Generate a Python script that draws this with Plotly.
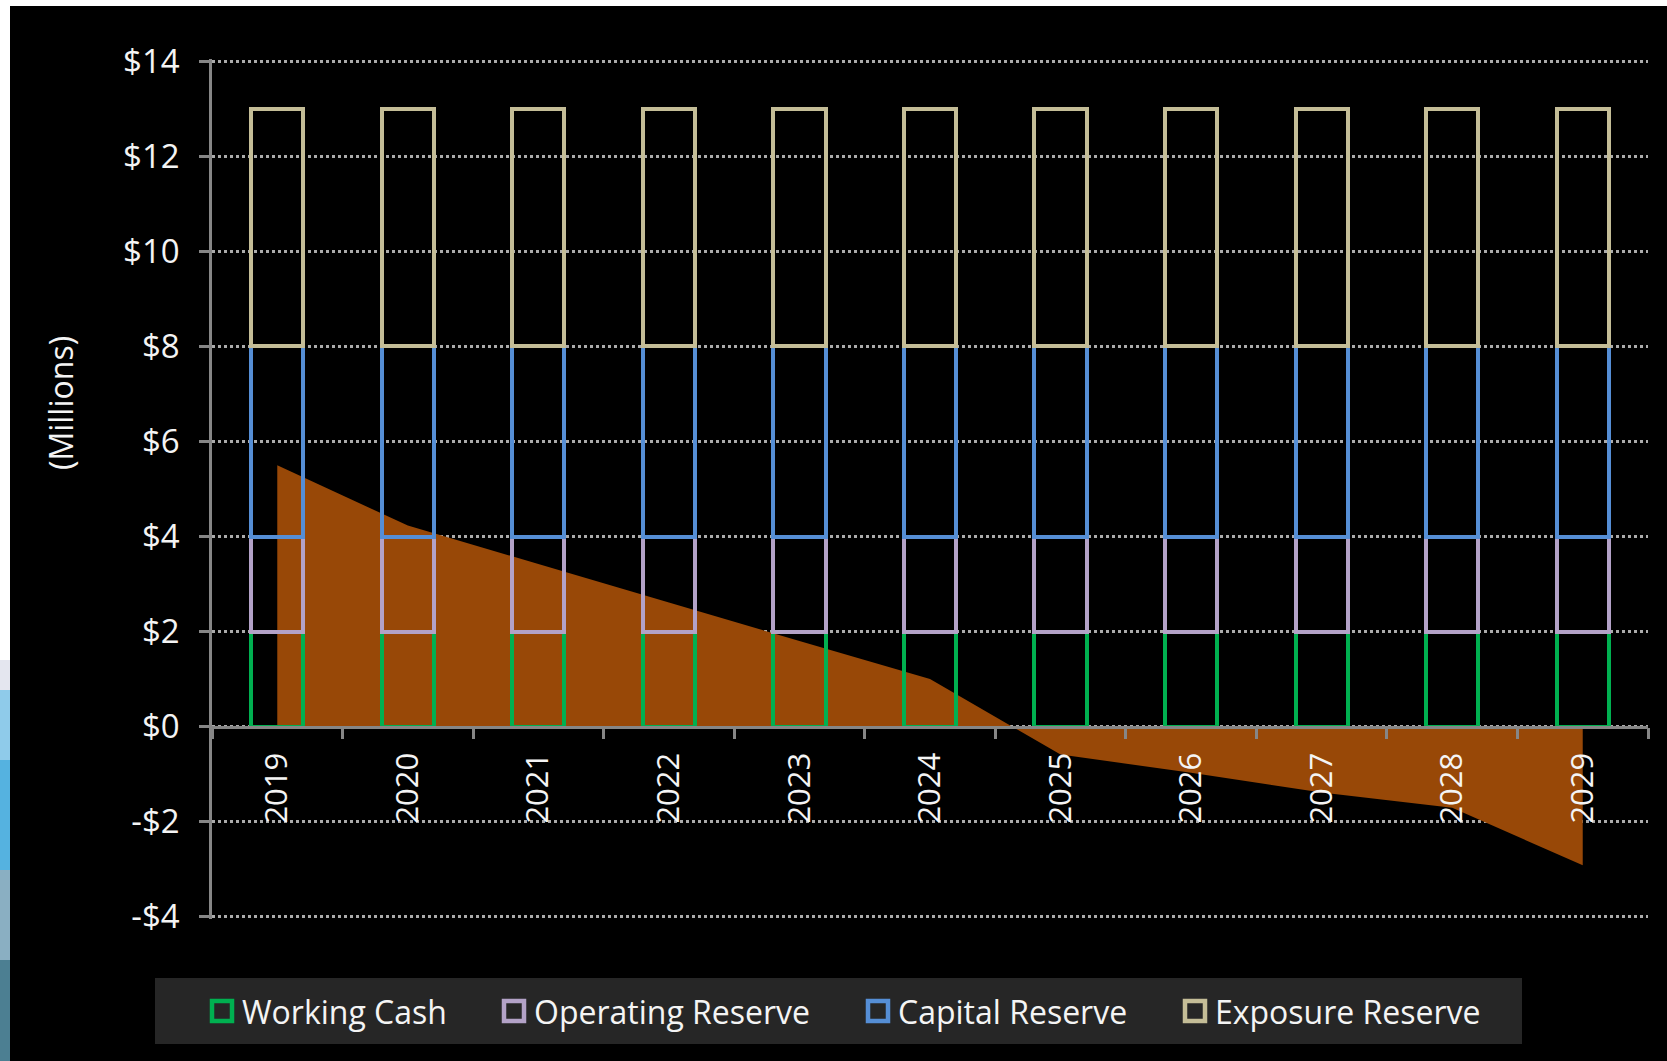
import plotly.graph_objects as go

# ---------------- data ----------------
years = ["2019", "2020", "2021", "2022", "2023", "2024", "2025", "2026", "2027", "2028", "2029"]
working_cash = [2, 2, 2, 2, 2, 2, 2, 2, 2, 2, 2]
operating_reserve = [2, 2, 2, 2, 2, 2, 2, 2, 2, 2, 2]
capital_reserve = [4, 4, 4, 4, 4, 4, 4, 4, 4, 4, 4]
exposure_reserve = [5, 5, 5, 5, 5, 5, 5, 5, 5, 5, 5]
fund_balance = [5.5, 4.23, 3.42, 2.61, 1.8, 1.0, -0.59, -0.97, -1.39, -1.71, -2.92]

y_tick_vals = [-4, -2, 0, 2, 4, 6, 8, 10, 12, 14]
y_tick_text = ["-$4", "-$2", "$0", "$2", "$4", "$6", "$8", "$10", "$12", "$14"]

series_names = ["Working Cash", "Operating Reserve", "Capital Reserve", "Exposure Reserve"]
series_colors = ["#00B050", "#B3A2C7", "#558ED5", "#C4BD97"]
area_color = "#984807"

# ---------------- layout geometry ----------------
W, H = 1667, 1061
L, R, T, B = 212, 19, 59, 142
PW = W - L - R
PH = H - T - B
FONT = "Open Sans"
TEXT = "#F4F4F4"


def px(x):
    return (x - L) / PW


def py(y):
    return (H - B - y) / PH


fig = go.Figure()

# area (balance) behind the bars
fig.add_trace(go.Scatter(
    x=years, y=fund_balance, mode="none", fill="tozeroy",
    fillcolor=area_color, showlegend=False, name="Balance",
    xaxis="x", yaxis="y",
))

# outlined stacked bars on overlaying axis so they are drawn above the area
for name, vals, col in zip(series_names,
                           [working_cash, operating_reserve, capital_reserve, exposure_reserve],
                           series_colors):
    fig.add_trace(go.Bar(
        x=years, y=vals, name=name, width=0.4,
        marker=dict(color="rgba(0,0,0,0)", line=dict(color=col, width=4)),
        showlegend=False, xaxis="x", yaxis="y2",
    ))

shapes = []
# white frame strips (top and left) as in the screenshot
shapes.append(dict(type="rect", xref="paper", yref="paper", x0=px(0), x1=px(W), y0=py(0), y1=py(6),
                   fillcolor="white", line=dict(width=0), layer="below"))
left_strip = [(0, 660, "#FFFFFF"), (660, 690, "#E4E6EF"), (690, 760, "#8FCBEA"),
              (760, 870, "#55B2E0"), (870, 960, "#8AAFC2"), (960, 1061, "#4C7F92")]
for y0, y1, c in left_strip:
    shapes.append(dict(type="rect", xref="paper", yref="paper", x0=px(0), x1=px(10),
                       y0=py(y0), y1=py(y1), fillcolor=c, line=dict(width=0), layer="below"))

# legend box
shapes.append(dict(type="rect", xref="paper", yref="paper", x0=px(155), x1=px(1522),
                   y0=py(978), y1=py(1044), fillcolor="#262626", line=dict(width=0), layer="below"))

annotations = []
marker_centers = [222, 514, 878, 1195]
legend_cy = 1011
for name, col, cx in zip(series_names, series_colors, marker_centers):
    shapes.append(dict(type="rect", xref="paper", yref="paper",
                       x0=px(cx - 10), x1=px(cx + 10), y0=py(legend_cy - 10), y1=py(legend_cy + 10),
                       fillcolor="#262626", line=dict(color=col, width=4.5), layer="above"))
    annotations.append(dict(text=name, xref="paper", yref="paper", x=px(cx + 18), y=py(legend_cy),
                            xanchor="left", yanchor="middle", showarrow=False,
                            font=dict(family=FONT, size=32, color=TEXT)))

# y axis title
annotations.append(dict(text="(Millions)", xref="paper", yref="paper", x=px(60), y=py(403),
                        xanchor="center", yanchor="middle", textangle=-90, showarrow=False,
                        font=dict(family=FONT, size=32, color=TEXT)))

axis_gray = "#868686"
yr = [-4.05, 14.05]

fig.update_layout(
    width=W, height=H,
    margin=dict(l=L, r=R, t=T, b=B, pad=0),
    paper_bgcolor="black", plot_bgcolor="rgba(0,0,0,0)",
    barmode="stack",
    showlegend=False,
    font=dict(family=FONT, size=31, color=TEXT),
    shapes=shapes,
    annotations=annotations,
    xaxis=dict(
        type="category", anchor="free", position=(0 - yr[0]) / (yr[1] - yr[0]),
        showline=True, linecolor=axis_gray, linewidth=2.5,
        ticks="outside", tickson="boundaries", ticklen=11, tickwidth=2.5, tickcolor=axis_gray,
        tickangle=-90, ticklabelstandoff=12,
        tickfont=dict(family=FONT, size=31, color=TEXT),
        showgrid=False, zeroline=False,
    ),
    yaxis=dict(
        range=yr, tickvals=y_tick_vals, ticktext=y_tick_text,
        showline=True, linecolor=axis_gray, linewidth=2.5,
        ticks="outside", ticklen=10, tickwidth=2.5, tickcolor=axis_gray,
        ticklabelstandoff=13,
        tickfont=dict(family=FONT, size=33, color=TEXT),
        showgrid=True, gridcolor="#ABABAB", gridwidth=2.5, griddash="dot",
        zeroline=False,
    ),
    yaxis2=dict(
        range=yr, overlaying="y", anchor="x", visible=False,
        showgrid=False, zeroline=False,
    ),
)

fig.write_html("out.html")
